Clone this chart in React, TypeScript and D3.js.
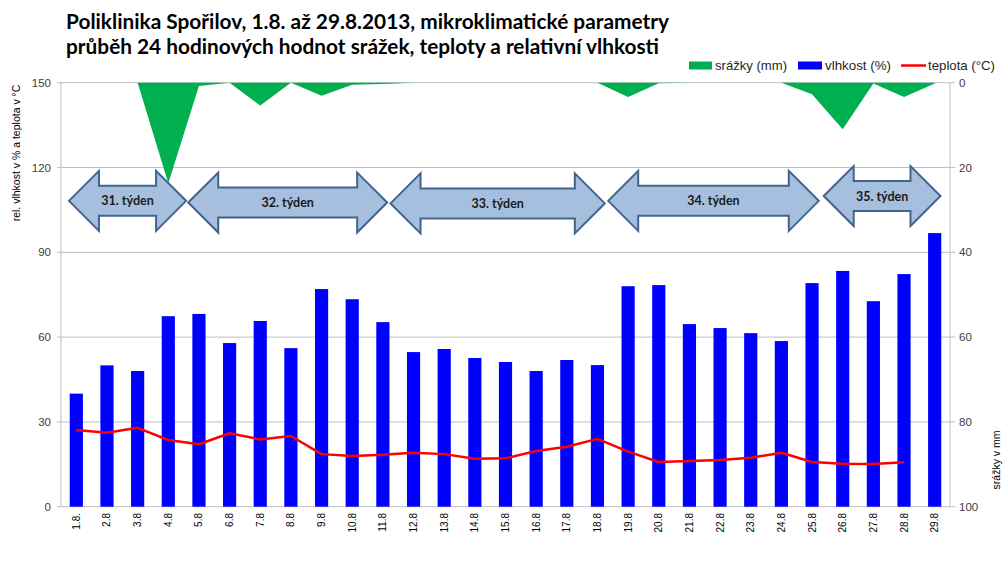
import React from "react";
import * as d3 from "d3";

const categories = ["1.8.","2.8","3.8","4.8","5.8","6.8","7.8","8.8","9.8","10.8","11.8","12.8","13.8","14.8","15.8","16.8","17.8","18.8","19.8","20.8","21.8","22.8","23.8","24.8","25.8","26.8","27.8","28.8","29.8"];
const humidity = [40,50,48,67.4,68.2,57.9,65.7,56.1,77,73.4,65.3,54.7,55.8,52.6,51.2,48,51.9,50.1,78,78.4,64.6,63.2,61.4,58.6,79.1,83.4,72.7,82.3,96.8];
const temperature: (number | null)[] = [27.1,26.2,27.9,23.6,22.1,26.0,23.8,25.0,18.6,17.9,18.4,19.1,18.6,17.0,17.1,19.7,21.2,24.0,19.5,15.8,16.2,16.5,17.3,19.1,15.8,15.2,15.1,15.7,null];
const precipitation = [0,0,0,23.7,0.8,0,5.4,0,3.1,0.5,0.3,0,0,0,0,0,0,0,3.4,0.15,0,0,0,0,2.7,11,0.2,3.4,0.2];
const leftTicks = [0,30,60,90,120,150];
const rightTicks = [0,20,40,60,80,100];
const weekLabels = ["31. týden","32. týden","33. týden","34. týden","35. týden"];
// week arrow spans in category units and vertical centre in left-axis units
const weekStart = [0.26,4.15,10.75,17.85,24.88];
const weekEnd = [4.08,10.64,17.74,24.72,28.69];
const weekCenter = [108.2,107.6,107.3,108.2,109.9];

const W = 1003, H = 574;
const L = 61, R = 950, T = 82.7, B = 506.7;

export default function App() {
  const x = d3.scaleBand<string>().domain(categories).range([L, R]).padding(0);
  const bw = x.bandwidth();
  const cx = (c: string) => (x(c) as number) + bw / 2;
  const catX = d3.scaleLinear().domain([0, categories.length]).range([L, R]);
  const yL = d3.scaleLinear().domain([0, 150]).range([B, T]);
  const yR = d3.scaleLinear().domain([0, 100]).range([T, B]);

  const area = d3.area<number>()
    .x((_, i) => cx(categories[i]))
    .y0(yR(0))
    .y1((d) => yR(d));
  const line = d3.line<number | null>()
    .defined((d) => d != null)
    .x((_, i) => cx(categories[i]))
    .y((d) => yL(d as number));

  const barW = bw * 0.43;
  const font = "'Liberation Sans', Arial, sans-serif";

  const arrowPath = (x0: number, x1: number, yc: number) => {
    const head = 30, hh = 30, bh = 15;
    return `M${x0},${yc} L${x0 + head},${yc - hh} L${x0 + head},${yc - bh} L${x1 - head},${yc - bh} L${x1 - head},${yc - hh} L${x1},${yc} L${x1 - head},${yc + hh} L${x1 - head},${yc + bh} L${x0 + head},${yc + bh} L${x0 + head},${yc + hh} Z`;
  };

  return (
    <div style={{ position: "fixed", left: 0, top: 0 }}>
      <svg width={W} height={H} style={{ display: "block", background: "#fff" }}>
        {/* title */}
        <text x={66} y={29} fontFamily="Lato, 'Open Sans', sans-serif" fontWeight="bold" fontSize={20} fill="#000" textLength={603} lengthAdjust="spacingAndGlyphs">Poliklinika Spořilov, 1.8. až 29.8.2013, mikroklimatické parametry</text>
        <text x={66} y={54} fontFamily="Lato, 'Open Sans', sans-serif" fontWeight="bold" fontSize={20} fill="#000" textLength={593} lengthAdjust="spacingAndGlyphs">průběh 24 hodinových hodnot srážek, teploty a relativní vlhkosti</text>

        {/* legend */}
        <rect x={689} y={61.5} width={23} height={8} fill="#00b050" />
        <text x={715} y={70} fontFamily={font} fontSize={13} fill="#262626" textLength={72} lengthAdjust="spacingAndGlyphs">srážky (mm)</text>
        <rect x={798} y={61.5} width={24} height={8} fill="#0000ff" />
        <text x={825} y={70} fontFamily={font} fontSize={13} fill="#262626" textLength={66} lengthAdjust="spacingAndGlyphs">vlhkost (%)</text>
        <line x1={901} x2={926} y1={65.5} y2={65.5} stroke="#ff0000" strokeWidth={2.5} />
        <text x={928} y={70} fontFamily={font} fontSize={13} fill="#262626" textLength={67} lengthAdjust="spacingAndGlyphs">teplota (°C)</text>

        {/* gridlines */}
        {leftTicks.map((t) => (
          <line key={"g" + t} x1={L} x2={R} y1={yL(t)} y2={yL(t)} stroke="#bfbfbf" strokeWidth={1} />
        ))}
        {/* axes */}
        <line x1={L} x2={L} y1={T} y2={B} stroke="#bfbfbf" />
        <line x1={R} x2={R} y1={T} y2={B} stroke="#bfbfbf" />
        {leftTicks.map((t) => (
          <g key={"lt" + t}>
            <line x1={L - 4} x2={L} y1={yL(t)} y2={yL(t)} stroke="#bfbfbf" />
            <text x={51} y={yL(t) + 4} textAnchor="end" fontFamily={font} fontSize={11.5} fill="#404040">{t}</text>
          </g>
        ))}
        {rightTicks.map((t) => (
          <g key={"rt" + t}>
            <line x1={R} x2={R + 5} y1={yR(t)} y2={yR(t)} stroke="#bfbfbf" />
            <text x={959} y={yR(t) + 4} textAnchor="start" fontFamily={font} fontSize={11.5} fill="#404040">{t}</text>
          </g>
        ))}

        {/* axis titles */}
        <text transform={`translate(20,153) rotate(-90)`} textAnchor="middle" fontFamily={font} fontSize={10.5} fill="#000">rel. vlhkost v % a teplota v °C</text>
        <text transform={`translate(1000,460) rotate(-90)`} textAnchor="middle" fontFamily={font} fontSize={10.5} fill="#000">srážky v mm</text>

        {/* precipitation area */}
        <path d={area(precipitation) || ""} fill="#00b050" />

        {/* humidity bars */}
        {humidity.map((v, i) => (
          <rect key={"b" + i} x={cx(categories[i]) - barW / 2} y={yL(v)} width={barW} height={yL(0) - yL(v)} fill="#0000ff" />
        ))}

        {/* temperature line */}
        <path d={line(temperature) || ""} fill="none" stroke="#ff0000" strokeWidth={2.5} strokeLinejoin="round" />

        {/* x labels */}
        {categories.map((c) => (
          <text key={"xl" + c} transform={`translate(${cx(c) + 3.5},513) rotate(-90)`} textAnchor="end" fontFamily={font} fontSize={10} fill="#000">{c}</text>
        ))}

        {/* week arrows */}
        {weekLabels.map((lab, i) => {
          const x0 = catX(weekStart[i]);
          const x1 = catX(weekEnd[i]);
          const yc = yL(weekCenter[i]);
          return (
            <g key={"w" + i}>
              <path d={arrowPath(x0, x1, yc)} fill="#a7bfde" stroke="#41638e" strokeWidth={2} strokeLinejoin="miter" />
              <text x={(x0 + x1) / 2} y={yc + 4.5} textAnchor="middle" fontFamily="Lato, 'Open Sans', sans-serif" fontWeight="bold" fontSize={12.5} fill="#1a1a1a">{lab}</text>
            </g>
          );
        })}
      </svg>
    </div>
  );
}
